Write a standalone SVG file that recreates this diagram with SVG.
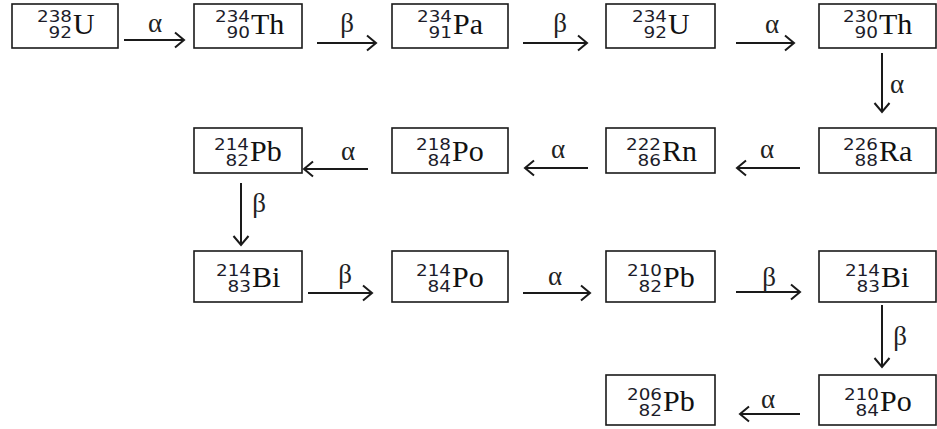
<svg xmlns="http://www.w3.org/2000/svg" width="937" height="429" viewBox="0 0 937 429">
<style>
.box{fill:#fff;stroke:#1a1a1a;stroke-width:1.6}
.n{font-family:"DejaVu Sans","Liberation Sans",sans-serif;font-size:15px;fill:#1c1c2a}
.s{font-family:"Liberation Serif",serif;font-size:30px;fill:#111}
.l{font-family:"Liberation Serif",serif;font-size:27px;fill:#222;text-anchor:middle}
.a{fill:none;stroke:#1a1a1a;stroke-width:2;marker-end:url(#ah)}
</style>
<defs>
<marker id="ah" markerUnits="userSpaceOnUse" markerWidth="20" markerHeight="20" refX="10" refY="10" orient="auto" viewBox="0 0 20 20">
<path d="M1,2.5 L10,10 L1,17.5" fill="none" stroke="#1a1a1a" stroke-width="2"/>
</marker>
</defs>

<g id="U238"><rect class="box" x="12" y="4" width="106" height="44"/>
<text class="n" x="37" y="22" textLength="35" lengthAdjust="spacingAndGlyphs">238</text>
<text class="n" x="48.5" y="38" textLength="23.5" lengthAdjust="spacingAndGlyphs">92</text>
<text class="s" x="73" y="34">U</text></g>

<g id="Th234"><rect class="box" x="194" y="4" width="108" height="44"/>
<text class="n" x="215" y="22" textLength="35" lengthAdjust="spacingAndGlyphs">234</text>
<text class="n" x="226.5" y="38" textLength="23.5" lengthAdjust="spacingAndGlyphs">90</text>
<text class="s" x="251" y="34">Th</text></g>

<g id="Pa234"><rect class="box" x="392" y="4" width="116" height="44"/>
<text class="n" x="417" y="22" textLength="35" lengthAdjust="spacingAndGlyphs">234</text>
<text class="n" x="428.5" y="38" textLength="23.5" lengthAdjust="spacingAndGlyphs">91</text>
<text class="s" x="453" y="34">Pa</text></g>

<g id="U234"><rect class="box" x="606" y="4" width="109" height="44"/>
<text class="n" x="632" y="22" textLength="35" lengthAdjust="spacingAndGlyphs">234</text>
<text class="n" x="643.5" y="38" textLength="23.5" lengthAdjust="spacingAndGlyphs">92</text>
<text class="s" x="668" y="34">U</text></g>

<g id="Th230"><rect class="box" x="819" y="4" width="117" height="44"/>
<text class="n" x="843" y="22" textLength="35" lengthAdjust="spacingAndGlyphs">230</text>
<text class="n" x="854.5" y="38" textLength="23.5" lengthAdjust="spacingAndGlyphs">90</text>
<text class="s" x="879" y="34">Th</text></g>

<g id="Ra226"><rect class="box" x="819" y="128" width="117" height="45"/>
<text class="n" x="843" y="150" textLength="35" lengthAdjust="spacingAndGlyphs">226</text>
<text class="n" x="854.5" y="166" textLength="23.5" lengthAdjust="spacingAndGlyphs">88</text>
<text class="s" x="879" y="161">Ra</text></g>

<g id="Rn222"><rect class="box" x="606" y="128" width="109" height="45"/>
<text class="n" x="626" y="150" textLength="35" lengthAdjust="spacingAndGlyphs">222</text>
<text class="n" x="637.5" y="166" textLength="23.5" lengthAdjust="spacingAndGlyphs">86</text>
<text class="s" x="662" y="161">Rn</text></g>

<g id="Po218"><rect class="box" x="392" y="128" width="116" height="45"/>
<text class="n" x="416" y="150" textLength="35" lengthAdjust="spacingAndGlyphs">218</text>
<text class="n" x="427.5" y="166" textLength="23.5" lengthAdjust="spacingAndGlyphs">84</text>
<text class="s" x="452" y="161">Po</text></g>

<g id="Pb214"><rect class="box" x="194" y="128" width="108" height="45"/>
<text class="n" x="214" y="150" textLength="35" lengthAdjust="spacingAndGlyphs">214</text>
<text class="n" x="225.5" y="166" textLength="23.5" lengthAdjust="spacingAndGlyphs">82</text>
<text class="s" x="250" y="161">Pb</text></g>

<g id="Bi214a"><rect class="box" x="194" y="251" width="108" height="51"/>
<text class="n" x="216" y="276" textLength="35" lengthAdjust="spacingAndGlyphs">214</text>
<text class="n" x="227.5" y="292" textLength="23.5" lengthAdjust="spacingAndGlyphs">83</text>
<text class="s" x="252" y="287">Bi</text></g>

<g id="Po214"><rect class="box" x="392" y="251" width="116" height="51"/>
<text class="n" x="416" y="276" textLength="35" lengthAdjust="spacingAndGlyphs">214</text>
<text class="n" x="427.5" y="292" textLength="23.5" lengthAdjust="spacingAndGlyphs">84</text>
<text class="s" x="452" y="287">Po</text></g>

<g id="Pb210"><rect class="box" x="606" y="251" width="109" height="51"/>
<text class="n" x="627" y="276" textLength="35" lengthAdjust="spacingAndGlyphs">210</text>
<text class="n" x="638.5" y="292" textLength="23.5" lengthAdjust="spacingAndGlyphs">82</text>
<text class="s" x="663" y="287">Pb</text></g>

<g id="Bi214b"><rect class="box" x="819" y="251" width="117" height="51"/>
<text class="n" x="845" y="276" textLength="35" lengthAdjust="spacingAndGlyphs">214</text>
<text class="n" x="856.5" y="292" textLength="23.5" lengthAdjust="spacingAndGlyphs">83</text>
<text class="s" x="881" y="287">Bi</text></g>

<g id="Po210"><rect class="box" x="819" y="375" width="117" height="50"/>
<text class="n" x="844" y="400" textLength="35" lengthAdjust="spacingAndGlyphs">210</text>
<text class="n" x="855.5" y="416" textLength="23.5" lengthAdjust="spacingAndGlyphs">84</text>
<text class="s" x="880" y="411">Po</text></g>

<g id="Pb206"><rect class="box" x="606" y="375" width="109" height="50"/>
<text class="n" x="627" y="400" textLength="35" lengthAdjust="spacingAndGlyphs">206</text>
<text class="n" x="638.5" y="416" textLength="23.5" lengthAdjust="spacingAndGlyphs">82</text>
<text class="s" x="663" y="411">Pb</text></g>

<g id="connectors">
<path class="a" d="M124,40 H184"/>
<path class="a" d="M317,43 H376"/>
<path class="a" d="M523,43 H587"/>
<path class="a" d="M736,43 H794"/>
<path class="a" d="M882,53 V112"/>
<path class="a" d="M800,168 H737"/>
<path class="a" d="M588,168 H525"/>
<path class="a" d="M368,169 H304"/>
<path class="a" d="M241,183 V245"/>
<path class="a" d="M308,293 H372"/>
<path class="a" d="M523,293 H590"/>
<path class="a" d="M736,292 H800"/>
<path class="a" d="M882,305 V367"/>
<path class="a" d="M800,414 H740"/>
<text class="l" x="155" y="32">α</text>
<text class="l" x="347" y="32">β</text>
<text class="l" x="560" y="32">β</text>
<text class="l" x="772" y="33">α</text>
<text class="l" x="897" y="93">α</text>
<text class="l" x="767" y="158">α</text>
<text class="l" x="558" y="158">α</text>
<text class="l" x="348" y="160">α</text>
<text class="l" x="259" y="212">β</text>
<text class="l" x="345" y="283">β</text>
<text class="l" x="555" y="285">α</text>
<text class="l" x="769" y="286">β</text>
<text class="l" x="900" y="345">β</text>
<text class="l" x="768" y="408">α</text>
</g>
</svg>
